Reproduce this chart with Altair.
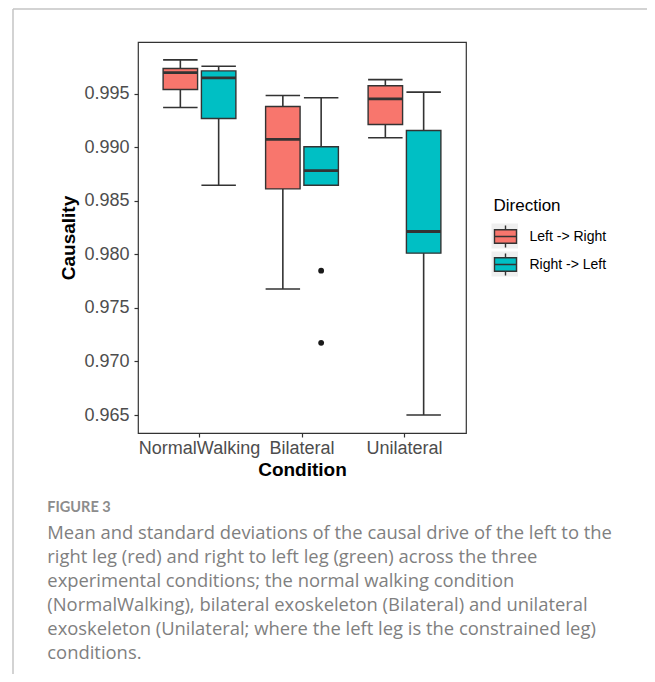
import altair as alt
import pandas as pd

# ---- data ----
conditions = ["NormalWalking", "NormalWalking", "Bilateral", "Bilateral", "Unilateral", "Unilateral"]
directions = ["Left -> Right", "Right -> Left"] * 3
lower = [0.99372, 0.98646, 0.97677, 0.98646, 0.99090, 0.96500]
q1 = [0.99540, 0.99270, 0.98612, 0.98646, 0.99214, 0.98012]
median = [0.99698, 0.99649, 0.99074, 0.98783, 0.99453, 0.98214]
q3 = [0.99736, 0.99714, 0.99382, 0.99006, 0.99575, 0.99158]
upper = [0.99817, 0.99758, 0.99484, 0.99463, 0.99633, 0.99516]

out_condition = ["Bilateral", "Bilateral"]
out_direction = ["Right -> Left", "Right -> Left"]
out_value = [0.97848, 0.97174]

cond_order = ["NormalWalking", "Bilateral", "Unilateral"]
dir_order = ["Left -> Right", "Right -> Left"]
dir_colors = ["#F8766D", "#00BFC4"]
y_ticks = [0.965, 0.970, 0.975, 0.980, 0.985, 0.990, 0.995]

caption_title = "FIGURE 3"
caption_lines = [
    "Mean and standard deviations of the causal drive of the left to the",
    "right leg (red) and right to left leg (green) across the three",
    "experimental conditions; the normal walking condition",
    "(NormalWalking), bilateral exoskeleton (Bilateral) and unilateral",
    "exoskeleton (Unilateral; where the left leg is the constrained leg)",
    "conditions.",
]

df = pd.DataFrame({"Condition": conditions, "Direction": directions, "lower": lower,
                   "q1": q1, "median": median, "q3": q3, "upper": upper})
dfo = pd.DataFrame({"Condition": out_condition, "Direction": out_direction, "value": out_value})

FONT = "Liberation Sans"
W, H = 328, 391

xenc = alt.X("Condition:N", title="Condition",
             scale=alt.Scale(domain=cond_order, paddingInner=0.29, paddingOuter=0.245),
             axis=alt.Axis(labelAngle=0, labelFontSize=18, labelColor="#4D4D4D", labelFont=FONT,
                           labelPadding=2, tickSize=4, tickColor="#333333", tickWidth=1.2, domain=False,
                           titleFontSize=19, titleFont=FONT, titleFontWeight="bold",
                           titleColor="black", titlePadding=3, labelOverlap=False))
xoff = alt.XOffset("Direction:N", scale=alt.Scale(domain=dir_order, paddingInner=0.1, paddingOuter=0))
yscale = alt.Scale(domain=[0.96332, 0.99984], nice=False, zero=False)
yaxis = alt.Axis(values=y_ticks, format=".3f", labelFontSize=18, labelColor="#4D4D4D", labelFont=FONT,
                 labelPadding=5, tickSize=4, tickColor="#333333", tickWidth=1.2, domain=False, grid=False,
                 title="Causality", titleFontSize=19, titleFont=FONT, titleFontWeight="bold",
                 titleColor="black", titlePadding=5)

base = alt.Chart(df)
LINE = "#333333"

whisk = base.mark_rule(color=LINE, strokeWidth=1.6).encode(
    x=xenc, xOffset=xoff,
    y=alt.Y("lower:Q", scale=yscale, axis=yaxis), y2="upper:Q")

caps_hi = base.mark_bar(fill="transparent", stroke=LINE, strokeWidth=1.6).encode(
    x=xenc, xOffset=xoff, y=alt.Y("upper:Q", scale=yscale, axis=yaxis), y2="upper:Q")
caps_lo = base.mark_bar(fill="transparent", stroke=LINE, strokeWidth=1.6).encode(
    x=xenc, xOffset=xoff, y=alt.Y("lower:Q", scale=yscale, axis=yaxis), y2="lower:Q")

legend_path = "M-1,-0.62H1V0.62H-1Z M-1,0H1 M0,-1V-0.62 M0,0.62V1"
boxes = base.mark_bar(stroke=LINE, strokeWidth=1.4, opacity=1).encode(
    x=xenc, xOffset=xoff,
    y=alt.Y("q1:Q", scale=yscale, axis=yaxis), y2="q3:Q",
    fill=alt.Fill("Direction:N", scale=alt.Scale(domain=dir_order, range=dir_colors),
                  legend=alt.Legend(orient="none", legendX=355.5, legendY=155.5, title="Direction",
                                    titleFontSize=17, titleFont=FONT, titleFontWeight="normal",
                                    titleColor="black", titlePadding=10, labelFontSize=14,
                                    labelFont=FONT, labelColor="black", labelOffset=12,
                                    symbolType=legend_path, symbolSize=484,
                                    symbolStrokeColor=LINE, symbolStrokeWidth=1.4,
                                    symbolOpacity=1, rowPadding=0)))

medians = base.mark_bar(fill="transparent", stroke=LINE, strokeWidth=2.8).encode(
    x=xenc, xOffset=xoff, y=alt.Y("median:Q", scale=yscale, axis=yaxis), y2="median:Q")

outl = alt.Chart(dfo).mark_circle(color="#1A1A1A", size=34, opacity=1).encode(
    x=xenc, xOffset=xoff, y=alt.Y("value:Q", scale=yscale, axis=yaxis))

one = alt.Data(values=[{}])

# light grey legend-key backgrounds (decoration behind the legend glyphs)
key_bg1 = alt.Chart(one).mark_rect(color="#EFEFEF").encode(
    x=alt.value(353.5), x2=alt.value(380), y=alt.value(181.5), y2=alt.value(206.5))
key_bg2 = alt.Chart(one).mark_rect(color="#EFEFEF").encode(
    x=alt.value(353.5), x2=alt.value(380), y=alt.value(209.5), y2=alt.value(234.5))

fig_label = alt.Chart(one).mark_text(text=caption_title, font="Lato", fontWeight="bold", fontSize=14.5,
                                     color="#8C8C8C", align="left", baseline="middle").encode(
    x=alt.value(-90.7), y=alt.value(466))
caption = alt.Chart(one).mark_text(text=caption_lines, font="Open Sans", fontSize=18.4, lineHeight=24,
                                   color="#7F7F7F", align="left", baseline="middle").encode(
    x=alt.value(-90.7), y=alt.value(490.5))

frame_left = alt.Chart(one).mark_rule(color="#C4C4C4", strokeWidth=1.5).encode(
    x=alt.value(-125), y=alt.value(-33), y2=alt.value(632))
frame_top = alt.Chart(one).mark_rule(color="#C4C4C4", strokeWidth=1.5).encode(
    x=alt.value(-125), x2=alt.value(509), y=alt.value(-33))

chart = alt.layer(key_bg1, key_bg2, whisk, caps_hi, caps_lo, boxes, medians, outl, fig_label, caption,
                  frame_left, frame_top).properties(
    width=W, height=H,
    autosize=alt.AutoSizeParams(type="none"),
    padding={"left": 130, "top": 34, "right": 181, "bottom": 241},
).configure_view(stroke=LINE, strokeWidth=1.2).configure_axis(grid=False)

chart.save("out.html", embed_options={"renderer": "svg", "actions": False})
